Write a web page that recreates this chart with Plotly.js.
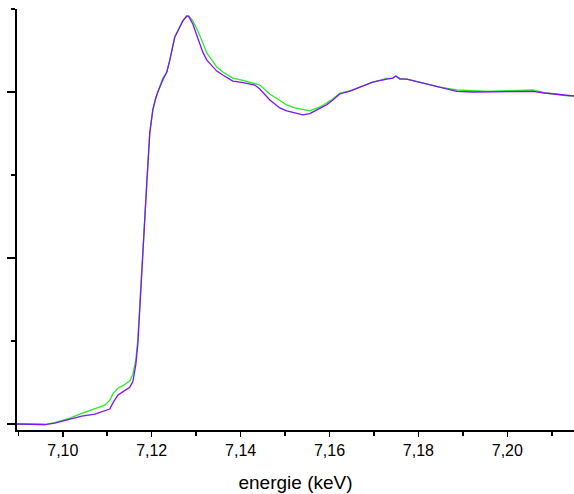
<!DOCTYPE html>
<html>
<head>
<meta charset="utf-8">
<script src="https://cdn.plot.ly/plotly-3.0.1.min.js"></script>
<style>html,body{margin:0;padding:0;background:#fff;}#chart{width:574px;height:494px;}</style>
</head>
<body>
<div id="chart"></div>
<script>
// energy (keV)
const energy = [7.08965,7.09145,7.0937,7.09595,7.0982,7.1000,7.10157,7.10427,7.1072,7.10945,7.11057,7.11125,7.11237,7.11372,7.11507,7.11575,7.11642,7.11687,7.11732,7.1180,7.1189,7.11957,7.12025,7.12092,7.12137,7.1225,7.1234,7.12407,7.1252,7.12632,7.1270,7.1279,7.12835,7.12925,7.13037,7.1315,7.1324,7.13307,7.13465,7.1360,7.13825,7.14027,7.14207,7.1432,7.14432,7.14657,7.14882,7.1504,7.1522,7.1540,7.15557,7.15782,7.1594,7.16074,7.16232,7.16457,7.16682,7.16974,7.17289,7.17424,7.17492,7.17582,7.17739,7.18099,7.18481,7.18864,7.19224,7.19606,7.19831,7.20056,7.20281,7.20574,7.20844,7.21069,7.21294,7.21496];
// normalized absorption, sample A (green)
const seriesGreen = [0.000,0.000,-0.0015,-0.0015,0.0045,0.012,0.018,0.032,0.045,0.057,0.072,0.090,0.108,0.117,0.130,0.148,0.193,0.253,0.358,0.530,0.729,0.877,0.946,0.982,1.000,1.042,1.060,1.096,1.166,1.196,1.214,1.229,1.229,1.214,1.184,1.148,1.117,1.105,1.075,1.060,1.042,1.036,1.030,1.027,1.021,0.994,0.973,0.961,0.952,0.946,0.943,0.955,0.967,0.979,0.997,1.003,1.015,1.030,1.041,1.042,1.048,1.041,1.039,1.027,1.015,1.006,1.003,1.002,1.003,1.003,1.005,1.006,0.997,0.994,0.989,0.988];
// normalized absorption, sample B (purple)
const seriesPurple = [0.000,0.000,-0.0015,-0.0015,0.003,0.009,0.015,0.024,0.030,0.039,0.045,0.063,0.087,0.099,0.111,0.127,0.178,0.238,0.352,0.524,0.726,0.877,0.946,0.982,1.000,1.036,1.060,1.096,1.166,1.196,1.214,1.229,1.227,1.205,1.163,1.120,1.096,1.087,1.063,1.051,1.033,1.029,1.024,1.021,1.009,0.976,0.952,0.943,0.937,0.931,0.935,0.952,0.962,0.976,0.994,1.003,1.015,1.030,1.039,1.042,1.048,1.039,1.039,1.027,1.015,1.002,1.000,1.000,1.000,1.000,1.002,1.002,0.997,0.994,0.991,0.988];

const traces = [
  {x: energy, y: seriesGreen, mode: 'lines', line: {color: '#22ee22', width: 1.3}, hoverinfo: 'skip'},
  {x: energy, y: seriesPurple, mode: 'lines', line: {color: '#8010ff', width: 1.3}, hoverinfo: 'skip'}
];

const layout = {
  width: 574, height: 494,
  margin: {l: 17, r: 0, t: 9, b: 64, pad: 0},
  paper_bgcolor: '#ffffff', plot_bgcolor: '#ffffff',
  showlegend: false,
  separators: ',.',
  font: {family: 'Liberation Sans, Arial, sans-serif', color: '#000'},
  xaxis: {
    range: [7.0897, 7.215],
    showgrid: false, zeroline: false,
    showline: true, linecolor: '#000', linewidth: 2,
    ticks: 'outside', ticklen: 5, tickwidth: 1.5, tickcolor: '#000',
    tick0: 7.10, dtick: 0.02, tickformat: '.2f',
    tickfont: {size: 16, family: 'Liberation Sans, Arial, sans-serif', color: '#000'},
    minor: {ticks: 'outside', ticklen: 4, tickwidth: 1.5, tickcolor: '#000', dtick: 0.01, tick0: 7.10, showgrid: false},
    title: {text: 'energie (keV)', font: {size: 19, family: 'Liberation Sans, Arial, sans-serif', color: '#000'}, standoff: 17}
  },
  yaxis: {
    range: [-0.018, 1.25],
    showgrid: false, zeroline: false,
    showline: true, linecolor: '#000', linewidth: 2,
    ticks: 'outside', ticklen: 8, tickwidth: 1.5, tickcolor: '#000',
    tick0: 0, dtick: 0.5,
    showticklabels: false,
    minor: {ticks: 'outside', ticklen: 4, tickwidth: 1.5, tickcolor: '#000', dtick: 0.25, tick0: 0, showgrid: false}
  }
};

Plotly.newPlot('chart', traces, layout, {staticPlot: true, displayModeBar: false});
</script>
</body>
</html>
